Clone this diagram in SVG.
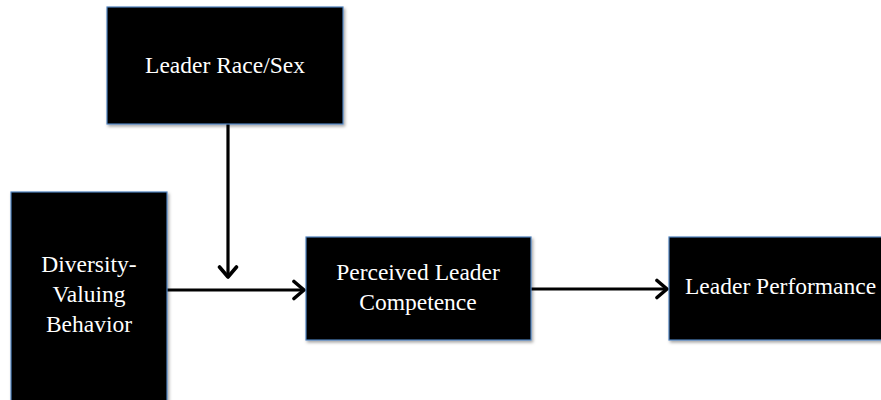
<svg xmlns="http://www.w3.org/2000/svg" width="881" height="400" viewBox="0 0 881 400">
<style>
.box{fill:#000;stroke:#4f81bd;stroke-width:1.2}
.lbl{font-family:"Liberation Serif","DejaVu Serif",serif;font-size:23.5px;fill:#fff;text-anchor:middle}
.conn{stroke:#000;stroke-width:3.2;fill:none}
</style>
<defs>
<filter id="sh" x="-10%" y="-10%" width="130%" height="130%">
<feDropShadow dx="1.5" dy="2" stdDeviation="1.5" flood-color="#000" flood-opacity="0.35"/>
</filter>
<marker id="ah" markerWidth="20" markerHeight="22" refX="13" refY="11" orient="auto" markerUnits="userSpaceOnUse">
<polyline points="3,2.5 13,11 3,19.5" fill="none" stroke="#000" stroke-width="3.6" stroke-linecap="round" stroke-linejoin="round"/>
</marker>
</defs>
<g id="connectors">
<line class="conn" x1="228" y1="124" x2="228" y2="277" marker-end="url(#ah)"/>
<line class="conn" x1="167" y1="290" x2="304" y2="290" marker-end="url(#ah)"/>
<line class="conn" x1="531" y1="289" x2="667" y2="289" marker-end="url(#ah)"/>
</g>
<g id="race-sex">
<rect class="box" filter="url(#sh)" x="107" y="7" width="236" height="117"/>
<text class="lbl" x="225" y="73">Leader Race/Sex</text>
</g>
<g id="diversity">
<rect class="box" filter="url(#sh)" x="11" y="192" width="156" height="215"/>
<text class="lbl" x="89" y="272">Diversity-</text>
<text class="lbl" x="89" y="302">Valuing</text>
<text class="lbl" x="89" y="332">Behavior</text>
</g>
<g id="competence">
<rect class="box" filter="url(#sh)" x="306" y="237" width="225" height="103"/>
<text class="lbl" x="418" y="280">Perceived Leader</text>
<text class="lbl" x="418" y="310">Competence</text>
</g>
<g id="performance">
<rect class="box" filter="url(#sh)" x="669" y="237" width="230" height="103"/>
<text class="lbl" x="685" y="294" style="text-anchor:start">Leader Performance</text>
</g>
</svg>
